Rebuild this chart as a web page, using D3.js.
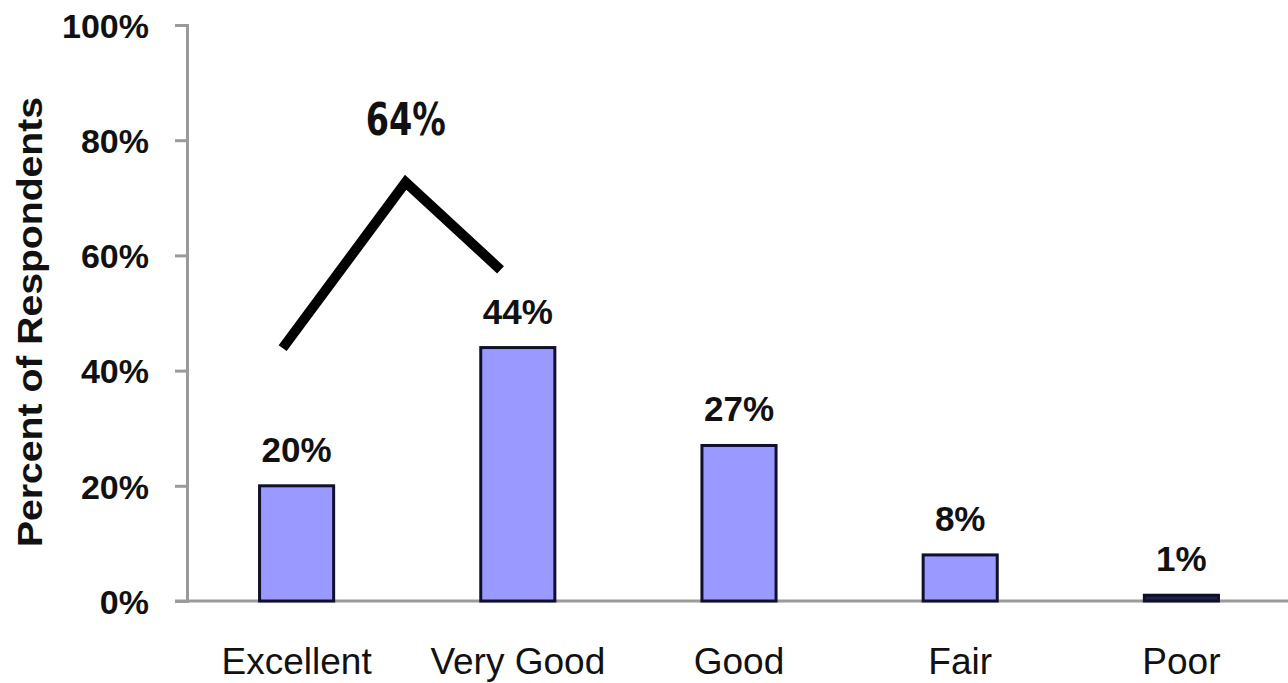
<!DOCTYPE html>
<html>
<head>
<meta charset="utf-8">
<script src="https://cdn.jsdelivr.net/npm/d3@7"></script>
<style>
  body { margin: 0; background: #fff; }
  svg { display: block; font-family: Arial, "Liberation Sans", sans-serif; }
</style>
</head>
<body>
<svg class="svg1" width="1288" height="683"></svg>
<script>
// data
const categories = ['Excellent', 'Very Good', 'Good', 'Fair', 'Poor'];
const values = [20, 44, 27, 8, 1]; // percent of respondents
const yTicks = [0, 20, 40, 60, 80, 100];

// bracket over Excellent + Very Good (index position, percent)
const bracketIdx = [-0.063, 0.493, 0.922];
const bracketPct = [43.9, 72.7, 57.5];
const combinedLabel = (values[0] + values[1]) + '%';

const width = 1288;
const height = 683;

const svg = d3.select('.svg1');

const x = d3.scaleBand()
    .domain(categories)
    .range([186, 1292])
    .paddingInner(0.665)
    .paddingOuter(0.3325);

const y = d3.scaleLinear()
    .domain([0, 100])
    .range([601, 25]);

// index -> bar centre, used for the bracket
const xIdx = d3.scaleLinear()
    .domain([0, categories.length - 1])
    .range([x(categories[0]) + x.bandwidth() / 2, x(categories[categories.length - 1]) + x.bandwidth() / 2]);

// y axis
const yAxis = d3.axisLeft(y)
    .tickValues(yTicks)
    .tickFormat(d => d + '%')
    .tickSize(12)
    .tickPadding(26);

const gy = svg.append('g')
    .attr('transform', 'translate(187,0)')
    .call(yAxis);

gy.select('.domain').attr('stroke', '#9a9a9a').attr('stroke-width', 3);
gy.selectAll('.tick line').attr('stroke', '#9a9a9a').attr('stroke-width', 3);
gy.selectAll('.tick text')
    .attr('fill', '#111')
    .attr('font-size', 34)
    .attr('font-weight', 'bold')
    .attr('font-family', 'Arial, "Liberation Sans", sans-serif')
    .attr('dy', '0.36em');

// x axis line (no ticks)
const xAxis = d3.axisBottom(x).tickSize(0).tickPadding(47);
const gx = svg.append('g')
    .attr('transform', 'translate(0,' + y(0) + ')')
    .call(xAxis);

gx.select('.domain')
    .attr('d', 'M175,0H' + width)
    .attr('stroke', '#9a9a9a')
    .attr('stroke-width', 3);
gx.selectAll('.tick text')
    .attr('fill', '#111')
    .attr('font-size', 37)
    .attr('font-family', 'Arial, "Liberation Sans", sans-serif')
    .attr('dy', '0.71em');

// bars
svg.append('g')
    .selectAll('rect')
    .data(values)
    .enter().append('rect')
    .attr('x', (d, i) => x(categories[i]))
    .attr('y', d => y(d))
    .attr('width', x.bandwidth())
    .attr('height', d => y(0) - y(d))
    .attr('fill', (d, i) => d < 2 ? '#24244a' : '#9999ff')
    .attr('stroke', '#10102e')
    .attr('stroke-width', 3);

// value labels
svg.append('g')
    .selectAll('text')
    .data(values)
    .enter().append('text')
    .attr('x', (d, i) => x(categories[i]) + x.bandwidth() / 2)
    .attr('y', d => y(d) - 24)
    .attr('text-anchor', 'middle')
    .attr('font-size', 35)
    .attr('font-weight', 'bold')
    .attr('fill', '#111')
    .text(d => d + '%');

// bracket
const bracket = d3.line()
    .x((d, i) => xIdx(bracketIdx[i]))
    .y(d => y(d));

svg.append('path')
    .attr('d', bracket(bracketPct))
    .attr('fill', 'none')
    .attr('stroke', '#000')
    .attr('stroke-width', 10)
    .attr('stroke-linejoin', 'miter');

svg.append('text')
    .attr('x', xIdx(bracketIdx[1]))
    .attr('y', y(bracketPct[1]) - 47)
    .attr('text-anchor', 'middle')
    .attr('font-size', 44)
    .attr('font-weight', 'bold')
    .attr('font-family', '"Liberation Sans Narrow", "DejaVu Sans Condensed", Arial, sans-serif')
    .attr('textLength', 80)
    .attr('lengthAdjust', 'spacingAndGlyphs')
    .attr('fill', '#111')
    .text(combinedLabel);

// y title
svg.append('text')
    .attr('transform', 'translate(42,322) rotate(-90)')
    .attr('text-anchor', 'middle')
    .attr('font-size', 35)
    .attr('font-weight', 'bold')
    .attr('textLength', 450)
    .attr('lengthAdjust', 'spacingAndGlyphs')
    .attr('fill', '#111')
    .text('Percent of Respondents');
</script>
</body>
</html>
